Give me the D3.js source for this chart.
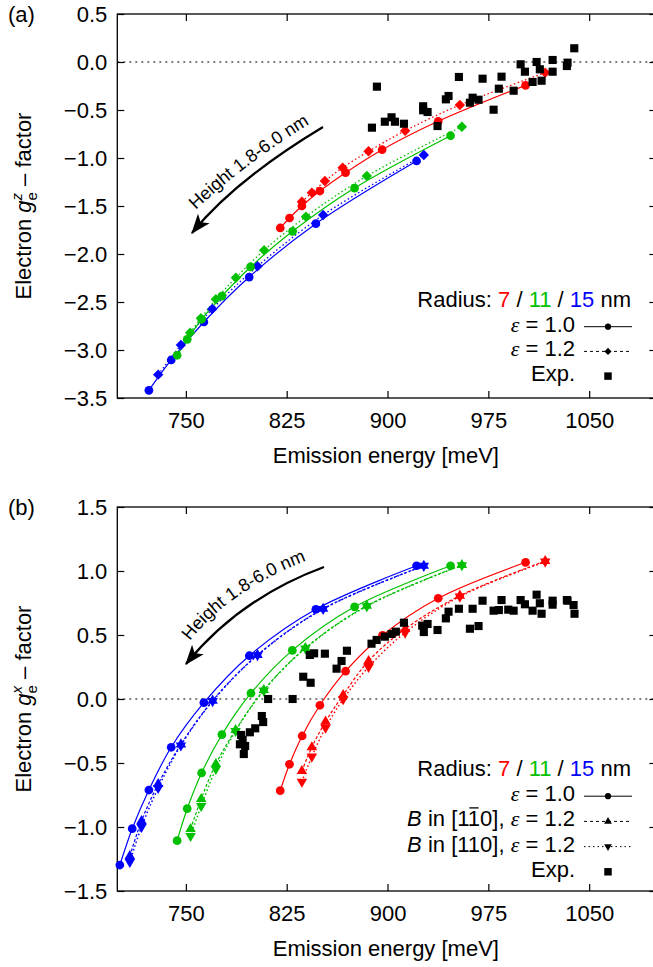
<!DOCTYPE html>
<html>
<head>
<meta charset="utf-8">
<script src="https://cdn.jsdelivr.net/npm/d3@7"></script>
<style>
  body { margin: 0; background: #fff; }
  svg { display: block; }
  text { font-family: "Liberation Sans", Arial, Helvetica, sans-serif; }
</style>
</head>
<body>
<div id="chart"></div>
<script>
const width = 653, height = 967

// tick values
const energyTicks = [750, 825, 900, 975, 1050]
const gzTicks = [0.5, 0.0, -0.5, -1.0, -1.5, -2.0, -2.5, -3.0, -3.5]
const gxTicks = [1.5, 1.0, 0.5, 0.0, -0.5, -1.0, -1.5]
const radiusLabels = ["7", "11", "15"]

// (a) g_z vs emission energy [meV], radius 7 / 11 / 15 nm
const gzRed10 = [[820.2, -1.729], [827.1, -1.625], [836.3, -1.500], [849.7, -1.344], [868.8, -1.153], [896.0, -0.914], [937.7, -0.618], [1002.7, -0.243]]
const gzRed12 = [[836.3, -1.455], [843.7, -1.361], [853.4, -1.240], [866.6, -1.101], [885.9, -0.930], [913.1, -0.716], [953.8, -0.448], [1017.3, -0.111]]
const gzGreen10 = [[743.5, -3.055], [751.0, -2.889], [761.7, -2.680], [776.8, -2.438], [798.1, -2.135], [829.4, -1.764], [875.5, -1.313], [946.9, -0.768]]
const gzGreen12 = [[753.2, -2.820], [761.2, -2.670], [772.3, -2.472], [787.2, -2.247], [808.2, -1.961], [839.3, -1.611], [884.6, -1.188], [955.3, -0.674]]
const gzBlue10 = [[722.5, -3.420], [739.1, -3.104], [763.4, -2.708], [797.1, -2.240], [846.7, -1.684], [921.6, -1.031]]
const gzBlue12 = [[729.4, -3.257], [746.3, -2.948], [769.6, -2.573], [803.3, -2.128], [852.1, -1.594], [927.0, -0.969]]
const gzExp = [[888.4, -0.684], [892.1, -0.257], [898.0, -0.622], [903.0, -0.576], [905.5, -0.622], [912.2, -0.643], [926.5, -0.461], [926.5, -0.503], [929.8, -0.521], [937.2, -0.667], [943.4, -0.389], [945.4, -0.354], [953.1, -0.156], [961.3, -0.424], [963.3, -0.372], [967.7, -0.393], [970.7, -0.174], [978.9, -0.497], [982.8, -0.278], [984.8, -0.153], [993.8, -0.299], [999.0, -0.024], [1002.2, -0.101], [1007.9, -0.208], [1010.9, 0.0], [1013.3, -0.076], [1014.6, -0.195], [1022.8, 0.021], [1022.8, -0.101], [1033.4, -0.042], [1033.9, -0.007], [1038.9, 0.143]]

// (b) g_x vs emission energy [meV]
const gxRed10 = [[820.2, -0.716], [827.1, -0.510], [836.5, -0.289], [849.7, -0.049], [868.8, 0.217], [896.3, 0.498], [937.7, 0.787], [1002.7, 1.068]]
const gxRed1m10 = [[836.3, -0.563], [843.7, -0.377], [853.9, -0.177], [867.0, 0.031], [885.9, 0.297], [913.1, 0.547], [953.8, 0.807], [1017.3, 1.078]]
const gxRed110 = [[836.3, -0.646], [843.7, -0.450], [853.9, -0.224], [867.0, -0.002], [885.9, 0.250], [913.1, 0.519], [953.8, 0.800], [1017.3, 1.073]]
const gxGreen10 = [[743.5, -1.107], [751.0, -0.857], [761.7, -0.578], [776.8, -0.279], [798.4, 0.045], [829.2, 0.380], [875.5, 0.720], [946.9, 1.041]]
const gxGreen1m10 = [[753.5, -1.016], [761.4, -0.781], [772.3, -0.508], [787.0, -0.242], [808.0, 0.070], [838.9, 0.398], [884.6, 0.728], [955.3, 1.047]]
const gxGreen110 = [[753.5, -1.070], [761.4, -0.836], [772.3, -0.547], [787.0, -0.250], [808.0, 0.066], [838.9, 0.395], [884.6, 0.725], [955.3, 1.045]]
const gxBlue10 = [[700.9, -1.297], [710.1, -1.013], [722.5, -0.711], [739.1, -0.377], [763.4, -0.029], [797.2, 0.338], [846.7, 0.701], [921.6, 1.041]]
const gxBlue1m10 = [[708.3, -1.227], [717.0, -0.953], [729.4, -0.664], [746.3, -0.355], [769.9, -0.013], [803.3, 0.344], [852.1, 0.705], [927.0, 1.041]]
const gxBlue110 = [[708.3, -1.273], [717.0, -1.000], [729.4, -0.695], [746.3, -0.363], [769.9, -0.016], [803.3, 0.342], [852.1, 0.703], [927.0, 1.040]]
const gxExp = [[790.2, -0.354], [791.1, -0.281], [792.2, -0.320], [793.1, -0.430], [794.1, -0.367], [797.6, -0.260], [801.6, -0.229], [806.5, -0.133], [807.5, -0.180], [811.2, 0.0], [829.4, 0.0], [837.3, 0.174], [842.2, 0.344], [842.8, 0.127], [845.4, 0.357], [853.4, 0.354], [862.1, 0.237], [865.8, 0.297], [869.8, 0.377], [888.1, 0.432], [891.9, 0.461], [898.0, 0.487], [903.0, 0.508], [906.2, 0.526], [912.2, 0.596], [925.8, 0.573], [927.0, 0.523], [929.8, 0.586], [937.2, 0.539], [943.4, 0.630], [945.4, 0.682], [953.1, 0.705], [961.3, 0.549], [963.3, 0.705], [967.7, 0.570], [970.7, 0.768], [978.9, 0.690], [982.8, 0.695], [984.8, 0.773], [989.8, 0.698], [993.8, 0.690], [999.0, 0.773], [1002.2, 0.740], [1007.9, 0.690], [1010.9, 0.815], [1013.3, 0.748], [1014.6, 0.666], [1022.8, 0.768], [1022.8, 0.737], [1033.4, 0.773], [1033.9, 0.768], [1038.4, 0.734], [1039.1, 0.666]]

const red = "#ff0000", green = "#00c000", blue = "#0000ff"
const sans = '"Liberation Sans", Arial, Helvetica, sans-serif'
const serif = '"Liberation Serif", "DejaVu Serif", serif'

const svg = d3.select("#chart").append("svg")
    .attr("width", width)
    .attr("height", height)

const defs = svg.append("defs")
defs.append("marker")
    .attr("id", "head")
    .attr("markerUnits", "userSpaceOnUse")
    .attr("markerWidth", 20).attr("markerHeight", 20)
    .attr("viewBox", "0 0 16 12")
    .attr("refX", 15).attr("refY", 6)
    .attr("orient", "auto")
    .append("path")
    .attr("d", "M0,0 L16,6 L0,12 L4,6 Z")
    .attr("fill", "#000")

const x = d3.scaleLinear().domain([699, 1100]).range([117.3, 656.4])

function markerPath(type, size) {
    const sym = type === "circle" ? d3.symbolCircle
        : (type === "up" || type === "down") ? d3.symbolTriangle
        : d3.symbolSquare
    return d3.symbol(sym, size)()
}
function markerRot(type) {
    return type === "diamond" ? 45 : type === "down" ? 180 : 0
}
const markerSize = { circle: 60, diamond: 54, square: 66, up: 48, down: 48 }
const legendSize = { circle: 30, diamond: 26, square: 56, up: 26, down: 26 }

function styleAxis(sel) {
    sel.attr("font-size", 22).attr("font-family", sans)
    sel.select("path.domain").remove()
    sel.selectAll("line").attr("stroke-width", 1.2)
    sel.selectAll("text").attr("fill", "#000")
}

function drawPanel(p) {
    const y = p.y
    const [x0, x1] = x.range()
    const [yb, yt] = y.range()
    const g = svg.append("g")

    defs.append("clipPath").attr("id", p.id + "-clip")
        .append("rect")
        .attr("x", x0).attr("y", yt)
        .attr("width", x1 - x0).attr("height", yb - yt)

    // zero line
    g.append("line")
        .attr("x1", x0).attr("x2", x1)
        .attr("y1", y(0)).attr("y2", y(0))
        .attr("stroke", "#000")
        .attr("stroke-width", 1)
        .attr("stroke-dasharray", "2,4")

    // axes, ticks pointing inward on all four sides
    g.append("g")
        .attr("transform", `translate(${x0},0)`)
        .call(d3.axisLeft(y).tickValues(p.yTicks).tickFormat(d3.format(".1f")).tickSize(-7).tickSizeOuter(0).tickPadding(10))
        .call(styleAxis)
    g.append("g")
        .attr("transform", `translate(${x1},0)`)
        .call(d3.axisRight(y).tickValues(p.yTicks).tickFormat("").tickSize(-7).tickSizeOuter(0))
        .call(styleAxis)
    g.append("g")
        .attr("transform", `translate(0,${yb})`)
        .call(d3.axisBottom(x).tickValues(energyTicks).tickFormat(d3.format("d")).tickSize(-7).tickSizeOuter(0).tickPadding(14))
        .call(styleAxis)
    g.append("g")
        .attr("transform", `translate(0,${yt})`)
        .call(d3.axisTop(x).tickValues(energyTicks).tickFormat("").tickSize(-7).tickSizeOuter(0))
        .call(styleAxis)
    g.append("rect")
        .attr("x", x0).attr("y", yt)
        .attr("width", x1 - x0).attr("height", yb - yt)
        .attr("fill", "none").attr("stroke", "#000").attr("stroke-width", 1.3)

    // curves
    const line = d3.line()
        .x(d => x(d[0]))
        .y(d => y(d[1]))
        .curve(d3.curveCatmullRom.alpha(0.5))
    const curves = g.append("g").attr("clip-path", `url(#${p.id}-clip)`)
    p.series.forEach(s => {
        if (s.dash === undefined) return
        curves.append("path")
            .attr("d", line(s.data))
            .attr("fill", "none")
            .attr("stroke", s.color)
            .attr("stroke-width", s.width || 1.2)
            .attr("stroke-dasharray", s.dash)
    })

    // points
    p.series.forEach(s => {
        g.append("g").selectAll("path")
            .data(s.data)
            .join("path")
            .attr("d", markerPath(s.marker, markerSize[s.marker]))
            .attr("transform", d => `translate(${x(d[0])},${y(d[1])}) rotate(${markerRot(s.marker)})`)
            .attr("fill", s.color)
    })

    // axis labels
    g.append("text")
        .attr("x", (x0 + x1) / 2 - 1)
        .attr("y", yb + 65)
        .attr("text-anchor", "middle")
        .attr("font-size", 22)
        .text("Emission energy [meV]")

    const yl = g.append("text")
        .attr("transform", `translate(31,${(yt + yb) / 2}) rotate(-90)`)
        .attr("text-anchor", "middle")
        .attr("font-size", 22)
    yl.append("tspan").text("Electron ")
    yl.append("tspan").attr("font-style", "italic").text("g")
    yl.append("tspan").attr("font-size", 15).attr("font-style", "italic").attr("dy", -9).text(p.comp)
    yl.append("tspan").attr("font-size", 15).attr("dx", -7.5).attr("dy", 15).text("e")
    yl.append("tspan").attr("dy", -6).text(" \u2013 factor")

    g.append("text")
        .attr("x", 8).attr("y", yt + 8)
        .attr("font-size", 22)
        .text(p.tag)

    // height arrow
    g.append("path")
        .attr("d", p.arrow)
        .attr("fill", "none")
        .attr("stroke", "#000")
        .attr("stroke-width", 2.3)
        .attr("marker-end", "url(#head)")
    defs.append("path").attr("id", p.id + "-tp").attr("d", p.textPath)
    g.append("text")
        .attr("font-size", 18)
        .append("textPath")
        .attr("href", `#${p.id}-tp`)
        .text("Height 1.8-6.0 nm")

    // legend
    const lg = g.append("g")
    const rad = lg.append("text")
        .attr("x", 631).attr("y", p.legendTop)
        .attr("text-anchor", "end")
        .attr("font-size", 22)
    rad.append("tspan").text("Radius: ")
    rad.append("tspan").attr("fill", red).text(radiusLabels[0])
    rad.append("tspan").text(" / ")
    rad.append("tspan").attr("fill", green).text(radiusLabels[1])
    rad.append("tspan").text(" / ")
    rad.append("tspan").attr("fill", blue).text(radiusLabels[2])
    rad.append("tspan").text(" nm")

    p.legend.forEach((row, i) => {
        const by = p.legendTop + (i + 1) * p.legendStep
        const ly = by - 5
        const t = lg.append("text")
            .attr("x", 575).attr("y", by)
            .attr("text-anchor", "end")
            .attr("font-size", 22)
        let barIndex = -1, count = 0
        row.parts.forEach(part => {
            const ts = t.append("tspan").text(part.t)
            if (part.it) ts.attr("font-style", "italic")
            if (part.serif) ts.attr("font-family", serif)
            if (part.over) barIndex = count
            count += part.t.length
        })
        if (barIndex >= 0) {
            // overbar on the negative index digit
            const box = t.node().getExtentOfChar(barIndex)
            lg.append("line")
                .attr("x1", box.x + 1.5).attr("x2", box.x + box.width - 1.5)
                .attr("y1", by - 18.5).attr("y2", by - 18.5)
                .attr("stroke", "#000")
                .attr("stroke-width", 1.3)
        }
        if (row.dash !== undefined) {
            lg.append("line")
                .attr("x1", 584).attr("x2", 632)
                .attr("y1", ly).attr("y2", ly)
                .attr("stroke", "#000")
                .attr("stroke-width", 1)
                .attr("stroke-dasharray", row.dash)
        }
        lg.append("path")
            .attr("d", markerPath(row.marker, legendSize[row.marker]))
            .attr("transform", `translate(608,${ly}) rotate(${markerRot(row.marker)})`)
            .attr("fill", "#000")
    })
}

const eps = [{ t: "\u03b5", it: true, serif: true }]

drawPanel({
    id: "pa",
    tag: "(a)",
    comp: "z",
    y: d3.scaleLinear().domain([-3.5, 0.5]).range([398, 14]),
    yTicks: gzTicks,
    series: [
        { data: gzBlue12, color: blue, marker: "diamond", dash: "1.5,2.5", width: 1.3 },
        { data: gzBlue10, color: blue, marker: "circle", dash: null },
        { data: gzGreen12, color: green, marker: "diamond", dash: "1.5,2.5", width: 1.3 },
        { data: gzGreen10, color: green, marker: "circle", dash: null },
        { data: gzRed12, color: red, marker: "diamond", dash: "1.5,2.5", width: 1.3 },
        { data: gzRed10, color: red, marker: "circle", dash: null },
        { data: gzExp, color: "#000", marker: "square" }
    ],
    arrow: "M323,127 Q235,180 192,233",
    textPath: "M196,210 Q250,158 330,112",
    legendTop: 307,
    legendStep: 24.7,
    legend: [
        { parts: eps.concat([{ t: " = 1.0" }]), dash: null, marker: "circle" },
        { parts: eps.concat([{ t: " = 1.2" }]), dash: "3,3", marker: "diamond" },
        { parts: [{ t: "Exp." }], marker: "square" }
    ]
})

drawPanel({
    id: "pb",
    tag: "(b)",
    comp: "x",
    y: d3.scaleLinear().domain([-1.5, 1.5]).range([891, 507]),
    yTicks: gxTicks,
    series: [
        { data: gxBlue110, color: blue, marker: "down", dash: "1.5,2.5", width: 1.5 },
        { data: gxBlue1m10, color: blue, marker: "up", dash: "3,2" },
        { data: gxBlue10, color: blue, marker: "circle", dash: null },
        { data: gxGreen110, color: green, marker: "down", dash: "1.5,2.5", width: 1.5 },
        { data: gxGreen1m10, color: green, marker: "up", dash: "3,2" },
        { data: gxGreen10, color: green, marker: "circle", dash: null },
        { data: gxRed110, color: red, marker: "down", dash: "1.5,2.5", width: 1.5 },
        { data: gxRed1m10, color: red, marker: "up", dash: "3,2" },
        { data: gxRed10, color: red, marker: "circle", dash: null },
        { data: gxExp, color: "#000", marker: "square" }
    ],
    arrow: "M324,567 Q240,598 186,664",
    textPath: "M190,641 Q234,584 330,552",
    legendTop: 776,
    legendStep: 25.2,
    legend: [
        { parts: eps.concat([{ t: " = 1.0" }]), dash: null, marker: "circle" },
        { parts: [{ t: "B", it: true }, { t: " in [1" }, { t: "1", over: true }, { t: "0], " }].concat(eps, [{ t: " = 1.2" }]), dash: "3,3", marker: "up" },
        { parts: [{ t: "B", it: true }, { t: " in [110], " }].concat(eps, [{ t: " = 1.2" }]), dash: "1.5,3", marker: "down" },
        { parts: [{ t: "Exp." }], marker: "square" }
    ]
})
</script>
</body>
</html>
